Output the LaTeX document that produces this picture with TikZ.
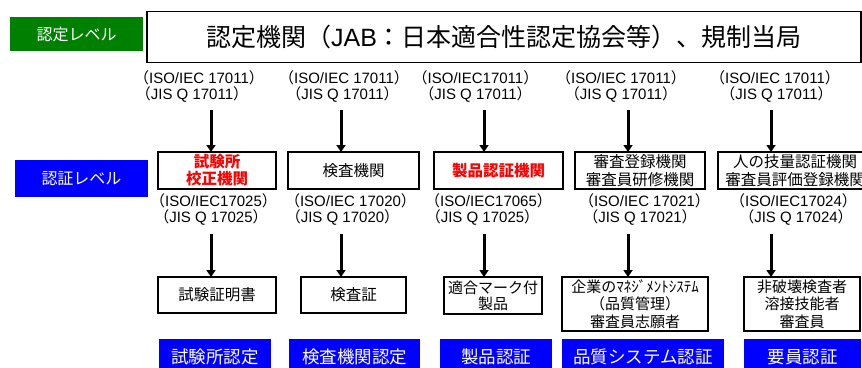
\documentclass[tikz,border=0pt]{standalone}
\usepackage{fontspec}
\setmainfont{Liberation Sans}
\newfontfamily\jp{Noto Sans CJK JP}
\usetikzlibrary{arrows.meta}
\definecolor{lvgreen}{RGB}{0,128,0}
\definecolor{lvblue}{RGB}{0,0,255}
\newcommand\stdl[1]{{\jp （}#1{\jp ）}}
\tikzset{
  lvl/.style={fill=lvblue, text=white, inner sep=0pt, outer sep=0pt, font=\jp\fontsize{17.5}{19}\selectfont},
  toplvl/.style={inner sep=0pt, outer sep=0pt, text=white, font=\jp\fontsize{16}{18}\selectfont},
  box/.style={draw, line width=1.8pt, fill=white, inner sep=0pt, outer sep=0pt, align=center, font=\jp\fontsize{15.5}{17.5}\selectfont},
  redbox/.style={box, text=red, font=\jp\bfseries\fontsize{15.5}{17}\selectfont},
  std/.style={inner sep=0pt, font=\fontsize{15}{17}\selectfont},
  arr/.style={line width=3pt, -{Triangle[length=7pt,width=9pt]}}
}
\begin{document}
\begin{tikzpicture}[x=1pt,y=-1pt]
\useasboundingbox (0,0) rectangle (862,367);
% level labels
\node[toplvl, fill=lvgreen, minimum width=133pt, minimum height=34pt] (lvA) at (76.5,34) {認定レベル};
\node[toplvl, fill=lvblue, minimum width=133pt, minimum height=37pt] (lvB) at (81.5,178.5) {認証レベル};
% top box
\node[draw, line width=1.3pt, fill=white, inner sep=0pt, outer sep=0pt, minimum width=714pt, minimum height=51pt,
      font=\fontsize{25}{27}\selectfont] (top) at (504,37)
  {{\jp 認定機関（}JAB{\jp ：日本適合性認定協会等）、規制当局}};
% top standards
\node[std] (t1a) at (199,77.5) {\stdl{ISO/IEC 17011}};
\node[std] (t1b) at (192,94) {\stdl{JIS Q 17011}};
\node[std] (t2a) at (344,77.5) {\stdl{ISO/IEC 17011}};
\node[std] (t2b) at (342.5,94) {\stdl{JIS Q 17011}};
\node[std] (t3a) at (475.5,77.5) {\stdl{ISO/IEC17011}};
\node[std] (t3b) at (475.5,94) {\stdl{JIS Q 17011}};
\node[std] (t4a) at (621,77.5) {\stdl{ISO/IEC 17011}};
\node[std] (t4b) at (621,94) {\stdl{JIS Q 17011}};
\node[std] (t5a) at (775,77.5) {\stdl{ISO/IEC 17011}};
\node[std] (t5b) at (776.5,94) {\stdl{JIS Q 17011}};
% middle boxes
\node[redbox, minimum width=118pt, minimum height=37pt] (m1) at (217,170.5) {試験所\\校正機関};
\node[box, minimum width=131pt, minimum height=37pt] (m2) at (353.5,170.5) {検査機関};
\node[redbox, minimum width=129pt, minimum height=37pt] (m3) at (498.5,170.5) {製品認証機関};
\node[box, minimum width=130pt, minimum height=37pt] (m4) at (640,170.5) {審査登録機関\\審査員研修機関};
\node[box, minimum width=154pt, minimum height=37pt] (m5) at (795,170.5) {人の技量認証機関\\審査員評価登録機関};
% middle standards
\node[std] (c1a) at (213.5,201) {\stdl{ISO/IEC17025}};
\node[std] (c1b) at (211,217) {\stdl{JIS Q 17025}};
\node[std] (c2a) at (350.5,201) {\stdl{ISO/IEC 17020}};
\node[std] (c2b) at (342.5,217) {\stdl{JIS Q 17020}};
\node[std] (c3a) at (488.5,201) {\stdl{ISO/IEC17065}};
\node[std] (c3b) at (482.5,217) {\stdl{JIS Q 17025}};
\node[std] (c4a) at (644.5,201) {\stdl{ISO/IEC 17021}};
\node[std] (c4b) at (640,217) {\stdl{JIS Q 17021}};
\node[std] (c5a) at (793.5,201) {\stdl{ISO/IEC17024}};
\node[std] (c5b) at (796,217) {\stdl{JIS Q 17024}};
% bottom boxes
\node[box, minimum width=118pt, minimum height=36pt] (b1) at (217,295) {試験証明書};
\node[box, minimum width=105pt, minimum height=36pt] (b2) at (353.5,295) {検査証};
\node[box, minimum width=98pt, minimum height=37pt, font=\jp\fontsize{15}{16}\selectfont] (b3) at (493,295.5) {適合マーク付\\製品};
\node[box, minimum width=146pt, minimum height=54pt, font=\jp\fontsize{15}{17.5}\selectfont] (b4) at (635,304) {企業のﾏﾈｼﾞﾒﾝﾄｼｽﾃﾑ\\（品質管理）\\審査員志願者};
\node[box, minimum width=116pt, minimum height=54pt, font=\jp\fontsize{15}{17.5}\selectfont] (b5) at (802,304) {非破壊検査者\\溶接技能者\\審査員};
% bottom labels
\node[lvl, minimum width=112pt, minimum height=36pt] (l1) at (215,357) {試験所認定};
\node[lvl, minimum width=131pt, minimum height=36pt] (l2) at (354.5,357) {検査機関認定};
\node[lvl, minimum width=112pt, minimum height=36pt] (l3) at (496,357) {製品認証};
\node[lvl, minimum width=162pt, minimum height=36pt] (l4) at (643,357) {品質システム認証};
\node[lvl, minimum width=117pt, minimum height=36pt] (l5) at (802.5,357) {要員認証};
% arrows
\coordinate (a1) at (211,110);
\coordinate (a2) at (341,110);
\coordinate (a3) at (484,110);
\coordinate (a4) at (628,110);
\coordinate (a5) at (771,110);
\coordinate (d1) at (211,234);
\coordinate (d2) at (341,234);
\coordinate (d3) at (484,234);
\coordinate (d4) at (628,234);
\coordinate (d5) at (771,234);
\draw[arr] (a1) -- (a1 |- m1.north);
\draw[arr] (a2) -- (a2 |- m2.north);
\draw[arr] (a3) -- (a3 |- m3.north);
\draw[arr] (a4) -- (a4 |- m4.north);
\draw[arr] (a5) -- (a5 |- m5.north);
\draw[arr] (d1) -- (d1 |- b1.north);
\draw[arr] (d2) -- (d2 |- b2.north);
\draw[arr] (d3) -- (d3 |- b3.north);
\draw[arr] (d4) -- (d4 |- b4.north);
\draw[arr] (d5) -- (d5 |- b5.north);
\end{tikzpicture}
\end{document}
